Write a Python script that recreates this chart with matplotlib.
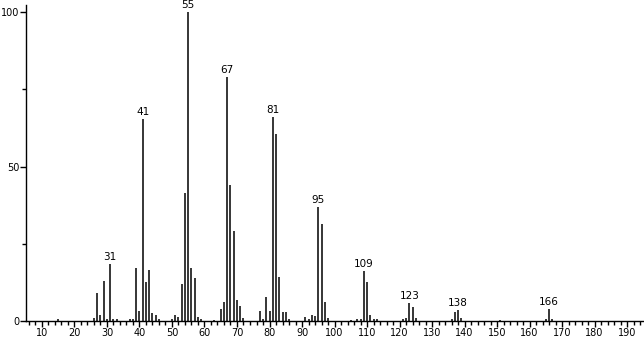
import matplotlib
matplotlib.use("Agg")
import matplotlib.pyplot as plt
from matplotlib.ticker import MultipleLocator

# m/z and relative intensity
mz = [15, 26, 27, 28, 29, 30, 31, 32, 33, 37, 38, 39, 40, 41, 42, 43, 44, 45, 46,
      50, 51, 52, 53, 54, 55, 56, 57, 58, 59, 63, 65, 66, 67, 68, 69, 70, 71, 72,
      77, 78, 79, 80, 81, 82, 83, 84, 85, 86, 91, 92, 93, 94, 95, 96, 97, 98,
      105, 107, 108, 109, 110, 111, 112, 113, 121, 122, 123, 124, 125,
      136, 137, 138, 139, 151, 165, 166, 167]
intensity = [0.5, 1.0, 9.0, 2.0, 13.0, 0.6, 18.5, 0.7, 0.5, 0.6, 0.8, 17.0, 3.3, 65.5, 12.5, 16.5, 2.6, 2.0, 0.5,
             0.6, 2.0, 1.3, 12.0, 41.5, 100.0, 17.0, 14.0, 1.3, 0.5, 0.4, 4.0, 6.0, 79.0, 44.0, 29.0, 6.8, 5.0, 1.0,
             3.2, 0.6, 7.8, 3.2, 66.0, 60.5, 14.2, 3.0, 3.0, 0.5, 1.3, 0.6, 2.0, 1.5, 37.0, 31.5, 6.2, 1.0,
             0.4, 0.5, 0.6, 16.2, 12.6, 2.0, 0.8, 0.5, 0.5, 1.0, 5.8, 4.5, 1.0,
             0.8, 3.0, 3.6, 1.0, 0.4, 0.5, 3.9, 0.5]
labelled = [31, 41, 55, 67, 81, 95, 109, 123, 138, 166]

fig = plt.figure(figsize=(6.44, 3.39), dpi=100)
ax = fig.add_axes([0.0404, 0.0531, 0.9596, 0.932])

ax.vlines(mz, 0, intensity, colors="black", linewidth=1.1)
for m, h in zip(mz, intensity):
    if m in labelled:
        ax.text(m, h + 0.6, str(m), ha="center", va="bottom", fontsize=7.5)

ax.set_xlim(5.1, 195.2)
ax.set_ylim(0, 102.3)
ax.xaxis.set_major_locator(MultipleLocator(10))
ax.xaxis.set_minor_locator(MultipleLocator(2))
ax.yaxis.set_major_locator(MultipleLocator(50))
ax.yaxis.set_minor_locator(MultipleLocator(25))
ax.tick_params(which="major", length=4, width=1, labelsize=7, pad=1)
ax.tick_params(which="minor", length=3, width=1)
for s in ["top", "right"]:
    ax.spines[s].set_visible(False)
ax.spines["left"].set_linewidth(1)
ax.spines["bottom"].set_linewidth(1)

fig.savefig("out.png", dpi=100)
